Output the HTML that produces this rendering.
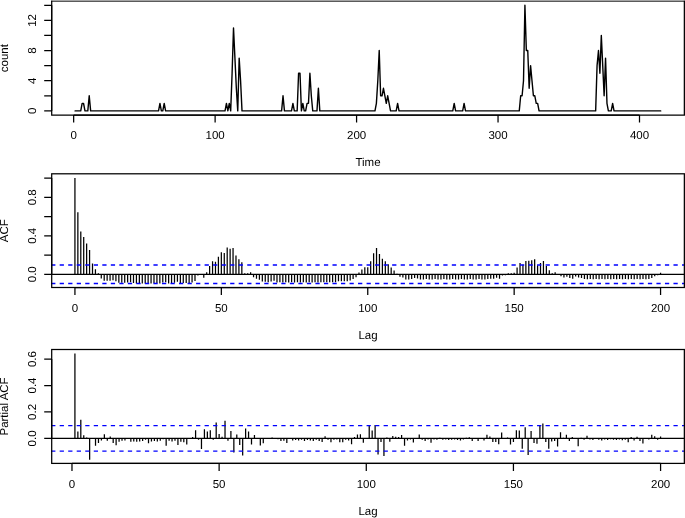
<!DOCTYPE html>
<html><head><meta charset="utf-8"><title>ACF plot</title>
<style>
html,body{margin:0;padding:0;background:#fff;}
body{width:685px;height:518px;overflow:hidden;}
svg{display:block;will-change:transform;}
text{text-rendering:geometricPrecision;font-family:"Liberation Sans",sans-serif;font-size:11.5px;fill:#000;}
.ln{stroke:#000;stroke-width:1.25;fill:none;stroke-linecap:butt;}
.dl{stroke:#000;stroke-width:1.4;stroke-linejoin:round;stroke-linecap:round;}
.bar{stroke:#000;stroke-width:1.25;fill:none;}
.cl{stroke:#00f;stroke-width:1.3;stroke-dasharray:4.2625 4.2625;fill:none;}
</style></head>
<body>
<svg width="685" height="518" viewBox="0 0 685 518">
<rect width="685" height="518" fill="#fff"/>
<g>
<polyline points="75.07,110.88 76.49,110.88 77.9,110.88 79.32,110.88 80.73,110.88 82.15,103.34 83.56,103.34 84.98,110.88 86.39,110.88 87.81,110.88 89.22,95.8 90.64,110.88 92.05,110.88 93.46,110.88 94.88,110.88 96.29,110.88 97.71,110.88 99.12,110.88 100.54,110.88 101.95,110.88 103.37,110.88 104.78,110.88 106.2,110.88 107.61,110.88 109.03,110.88 110.44,110.88 111.85,110.88 113.27,110.88 114.68,110.88 116.1,110.88 117.51,110.88 118.93,110.88 120.34,110.88 121.76,110.88 123.17,110.88 124.59,110.88 126,110.88 127.42,110.88 128.83,110.88 130.24,110.88 131.66,110.88 133.07,110.88 134.49,110.88 135.9,110.88 137.32,110.88 138.73,110.88 140.15,110.88 141.56,110.88 142.98,110.88 144.39,110.88 145.81,110.88 147.22,110.88 148.63,110.88 150.05,110.88 151.46,110.88 152.88,110.88 154.29,110.88 155.71,110.88 157.12,110.88 158.54,110.88 159.95,103.34 161.37,110.88 162.78,110.88 164.2,103.34 165.61,110.88 167.02,110.88 168.44,110.88 169.85,110.88 171.27,110.88 172.68,110.88 174.1,110.88 175.51,110.88 176.93,110.88 178.34,110.88 179.76,110.88 181.17,110.88 182.58,110.88 184,110.88 185.41,110.88 186.83,110.88 188.24,110.88 189.66,110.88 191.07,110.88 192.49,110.88 193.9,110.88 195.32,110.88 196.73,110.88 198.15,110.88 199.56,110.88 200.97,110.88 202.39,110.88 203.8,110.88 205.22,110.88 206.63,110.88 208.05,110.88 209.46,110.88 210.88,110.88 212.29,110.88 213.71,110.88 215.12,110.88 216.54,110.88 217.95,110.88 219.36,110.88 220.78,110.88 222.19,110.88 223.61,110.88 225.02,110.88 226.44,103.34 227.85,110.88 229.27,103.34 230.68,110.88 232.1,73.18 233.51,27.94 234.93,58.1 236.34,88.26 237.75,110.88 239.17,58.1 240.58,80.72 242,110.88 243.41,110.88 244.83,110.88 246.24,110.88 247.66,110.88 249.07,110.88 250.49,110.88 251.9,110.88 253.32,110.88 254.73,110.88 256.14,110.88 257.56,110.88 258.97,110.88 260.39,110.88 261.8,110.88 263.22,110.88 264.63,110.88 266.05,110.88 267.46,110.88 268.88,110.88 270.29,110.88 271.71,110.88 273.12,110.88 274.53,110.88 275.95,110.88 277.36,110.88 278.78,110.88 280.19,110.88 281.61,110.88 283.02,95.8 284.44,110.88 285.85,110.88 287.27,110.88 288.68,110.88 290.1,110.88 291.51,110.88 292.92,103.34 294.34,110.88 295.75,110.88 297.17,110.88 298.58,73.18 300,73.18 301.41,110.88 302.83,103.34 304.24,110.88 305.66,110.88 307.07,103.34 308.49,103.34 309.9,73.18 311.31,95.8 312.73,110.88 314.14,110.88 315.56,110.88 316.97,110.88 318.39,88.26 319.8,110.88 321.22,110.88 322.63,110.88 324.05,110.88 325.46,110.88 326.88,110.88 328.29,110.88 329.7,110.88 331.12,110.88 332.53,110.88 333.95,110.88 335.36,110.88 336.78,110.88 338.19,110.88 339.61,110.88 341.02,110.88 342.44,110.88 343.85,110.88 345.27,110.88 346.68,110.88 348.09,110.88 349.51,110.88 350.92,110.88 352.34,110.88 353.75,110.88 355.17,110.88 356.58,110.88 358,110.88 359.41,110.88 360.83,110.88 362.24,110.88 363.66,110.88 365.07,110.88 366.48,110.88 367.9,110.88 369.31,110.88 370.73,110.88 372.14,110.88 373.56,110.88 374.97,110.88 376.39,103.34 377.8,80.72 379.22,50.56 380.63,95.8 382.04,95.8 383.46,88.26 384.87,95.8 386.29,103.34 387.7,95.8 389.12,103.34 390.53,110.88 391.95,110.88 393.36,110.88 394.78,110.88 396.19,110.88 397.61,103.34 399.02,110.88 400.43,110.88 401.85,110.88 403.26,110.88 404.68,110.88 406.09,110.88 407.51,110.88 408.92,110.88 410.34,110.88 411.75,110.88 413.17,110.88 414.58,110.88 416,110.88 417.41,110.88 418.82,110.88 420.24,110.88 421.65,110.88 423.07,110.88 424.48,110.88 425.9,110.88 427.31,110.88 428.73,110.88 430.14,110.88 431.56,110.88 432.97,110.88 434.39,110.88 435.8,110.88 437.21,110.88 438.63,110.88 440.04,110.88 441.46,110.88 442.87,110.88 444.29,110.88 445.7,110.88 447.12,110.88 448.53,110.88 449.95,110.88 451.36,110.88 452.78,110.88 454.19,103.34 455.6,110.88 457.02,110.88 458.43,110.88 459.85,110.88 461.26,110.88 462.68,110.88 464.09,103.34 465.51,110.88 466.92,110.88 468.34,110.88 469.75,110.88 471.17,110.88 472.58,110.88 473.99,110.88 475.41,110.88 476.82,110.88 478.24,110.88 479.65,110.88 481.07,110.88 482.48,110.88 483.9,110.88 485.31,110.88 486.73,110.88 488.14,110.88 489.56,110.88 490.97,110.88 492.38,110.88 493.8,110.88 495.21,110.88 496.63,110.88 498.04,110.88 499.46,110.88 500.87,110.88 502.29,110.88 503.7,110.88 505.12,110.88 506.53,110.88 507.95,110.88 509.36,110.88 510.77,110.88 512.19,110.88 513.6,110.88 515.02,110.88 516.43,110.88 517.85,110.88 519.26,110.88 520.68,95.8 522.09,95.8 523.51,80.72 524.92,5.32 526.34,50.56 527.75,50.56 529.16,88.26 530.58,65.64 531.99,80.72 533.41,95.8 534.82,95.8 536.24,103.34 537.65,103.34 539.07,110.88 540.48,110.88 541.9,110.88 543.31,110.88 544.73,110.88 546.14,110.88 547.55,110.88 548.97,110.88 550.38,110.88 551.8,110.88 553.21,110.88 554.63,110.88 556.04,110.88 557.46,110.88 558.87,110.88 560.29,110.88 561.7,110.88 563.12,110.88 564.53,110.88 565.94,110.88 567.36,110.88 568.77,110.88 570.19,110.88 571.6,110.88 573.02,110.88 574.43,110.88 575.85,110.88 577.26,110.88 578.68,110.88 580.09,110.88 581.5,110.88 582.92,110.88 584.33,110.88 585.75,110.88 587.16,110.88 588.58,110.88 589.99,110.88 591.41,110.88 592.82,110.88 594.24,110.88 595.65,110.88 597.07,65.64 598.48,50.56 599.89,73.18 601.31,35.48 602.72,65.64 604.14,95.8 605.55,58.1 606.97,103.34 608.38,110.88 609.8,110.88 611.21,110.88 612.63,103.34 614.04,110.88 615.46,110.88 616.87,110.88 618.28,110.88 619.7,110.88 621.11,110.88 622.53,110.88 623.94,110.88 625.36,110.88 626.77,110.88 628.19,110.88 629.6,110.88 631.02,110.88 632.43,110.88 633.85,110.88 635.26,110.88 636.67,110.88 638.09,110.88 639.5,110.88 640.92,110.88 642.33,110.88 643.75,110.88 645.16,110.88 646.58,110.88 647.99,110.88 649.41,110.88 650.82,110.88 652.24,110.88 653.65,110.88 655.06,110.88 656.48,110.88 657.89,110.88 659.31,110.88 660.72,110.88" class="dl" fill="none"/>
<path d="M51.7 0.65V115.1H684.35V0.65" class="ln" stroke-linejoin="miter"/>
<path d="M51.08 1.15H684.98" class="ln" style="stroke-width:1"/>
<path d="M73.66 115.1H639.5M73.66 115.1v7.5M215.12 115.1v7.5M356.58 115.1v7.5M498.04 115.1v7.5M639.5 115.1v7.5" class="ln"/>
<text x="73.66" y="139.3" text-anchor="middle">0</text>
<text x="215.12" y="139.3" text-anchor="middle">100</text>
<text x="356.58" y="139.3" text-anchor="middle">200</text>
<text x="498.04" y="139.3" text-anchor="middle">300</text>
<text x="639.5" y="139.3" text-anchor="middle">400</text>
<path d="M51.7 110.88V5.32M51.7 110.88h-7.5M51.7 95.8h-7.5M51.7 80.72h-7.5M51.7 65.64h-7.5M51.7 50.56h-7.5M51.7 35.48h-7.5M51.7 20.4h-7.5M51.7 5.32h-7.5" class="ln"/>
<text transform="translate(36 110.88) rotate(-90)" text-anchor="middle">0</text>
<text transform="translate(36 80.72) rotate(-90)" text-anchor="middle">4</text>
<text transform="translate(36 50.56) rotate(-90)" text-anchor="middle">8</text>
<text transform="translate(36 20.4) rotate(-90)" text-anchor="middle">12</text>
<text transform="translate(8.2 58.12) rotate(-90)" text-anchor="middle">count</text>
<text x="368.03" y="166.1" text-anchor="middle">Time</text>
<path d="M74.93 274.25V178.1M77.86 274.25V212.14M80.79 274.25V231.46M83.71 274.25V237.04M86.64 274.25V243.39M89.57 274.25V250.12M92.5 274.25V263.48M95.43 274.25V269.35M98.36 274.25V273.29M101.28 274.25V278.58M104.21 274.25V280.79M107.14 274.25V280.79M110.07 274.25V280.79M113 274.25V280.21M115.92 274.25V281.27M118.85 274.25V282.81M121.78 274.25V282.81M124.71 274.25V282.81M127.64 274.25V282.52M130.57 274.25V282.33M133.49 274.25V282.9M136.42 274.25V283.48M139.35 274.25V283.29M142.28 274.25V283.48M145.21 274.25V283.48M148.13 274.25V283.29M151.06 274.25V283.48M153.99 274.25V283.29M156.92 274.25V283.29M159.85 274.25V283.48M162.78 274.25V282.42M165.7 274.25V282.13M168.63 274.25V283.48M171.56 274.25V282.9M174.49 274.25V282.71M177.42 274.25V281.85M180.35 274.25V282.9M183.27 274.25V282.9M186.2 274.25V282.9M189.13 274.25V282.9M192.06 274.25V282.62M194.99 274.25V280.98M197.91 274.25V275.6M200.84 274.25V274.73M203.77 274.25V277.81M206.7 274.25V272.23M209.63 274.25V265.88M212.56 274.25V261.27M215.48 274.25V261.65M218.41 274.25V256.75M221.34 274.25V252.33M224.27 274.25V253M227.2 274.25V247.42M230.12 274.25V248.77M233.05 274.25V248.1M235.98 274.25V255.5M238.91 274.25V259.35M241.84 274.25V262.14M244.77 274.25V273.29M247.69 274.25V273.29M250.62 274.25V272.33M253.55 274.25V277.23M256.48 274.25V278.77M259.41 274.25V279.83M262.33 274.25V281.56M265.26 274.25V281.85M268.19 274.25V282.13M271.12 274.25V281.56M274.05 274.25V280.69M276.98 274.25V282.42M279.9 274.25V282.13M282.83 274.25V282.42M285.76 274.25V282.13M288.69 274.25V282.42M291.62 274.25V282.13M294.54 274.25V282.42M297.47 274.25V282.13M300.4 274.25V282.42M303.33 274.25V282.13M306.26 274.25V282.42M309.19 274.25V282.13M312.11 274.25V282.42M315.04 274.25V282.13M317.97 274.25V282.42M320.9 274.25V282.13M323.83 274.25V282.23M326.76 274.25V282.23M329.68 274.25V282.23M332.61 274.25V282.23M335.54 274.25V282.23M338.47 274.25V281.37M341.4 274.25V281.37M344.32 274.25V281.37M347.25 274.25V281.37M350.18 274.25V280.5M353.11 274.25V279.06M356.04 274.25V277.13M358.97 274.25V272.52M361.89 274.25V269.54M364.82 274.25V267.13M367.75 274.25V267.13M370.68 274.25V261.27M373.61 274.25V253.29M376.53 274.25V248M379.46 274.25V254.06M382.39 274.25V258.67M385.32 274.25V261.27M388.25 274.25V264.25M391.18 274.25V267.52M394.1 274.25V270.5M397.03 274.25V273.77M399.96 274.25V276.75M402.89 274.25V277.62M405.82 274.25V279.54M408.74 274.25V279.54M411.67 274.25V279.06M414.6 274.25V278.1M417.53 274.25V278.58M420.46 274.25V279.54M423.39 274.25V279.54M426.31 274.25V279.06M429.24 274.25V279.54M432.17 274.25V279.54M435.1 274.25V279.06M438.03 274.25V279.54M440.95 274.25V279.54M443.88 274.25V279.06M446.81 274.25V279.54M449.74 274.25V279.54M452.67 274.25V279.06M455.6 274.25V279.54M458.52 274.25V279.54M461.45 274.25V279.06M464.38 274.25V279.54M467.31 274.25V279.54M470.24 274.25V279.06M473.17 274.25V279.54M476.09 274.25V279.54M479.02 274.25V279.06M481.95 274.25V279.54M484.88 274.25V279.54M487.81 274.25V279.06M490.73 274.25V278.67M493.66 274.25V278.67M496.59 274.25V277.81M499.52 274.25V278.67M502.45 274.25V275.6M505.38 274.25V275.21M508.3 274.25V273.29M511.23 274.25V273.29M514.16 274.25V272.71M517.09 274.25V267.42M520.02 274.25V263.1M522.94 274.25V264.83M525.87 274.25V260.89M528.8 274.25V260.69M531.73 274.25V260.21M534.66 274.25V259.25M537.59 274.25V265.31M540.51 274.25V263.1M543.44 274.25V260.89M546.37 274.25V265.88M549.3 274.25V270.31M552.23 274.25V273.29M555.15 274.25V272.33M558.08 274.25V274.54M561.01 274.25V276.17M563.94 274.25V277.42M566.87 274.25V276.85M569.8 274.25V278.1M572.72 274.25V278.87M575.65 274.25V276.56M578.58 274.25V277.62M581.51 274.25V277.9M584.44 274.25V279.06M587.37 274.25V279.25M590.29 274.25V279.06M593.22 274.25V279.25M596.15 274.25V279.06M599.08 274.25V279.25M602.01 274.25V279.06M604.93 274.25V279.25M607.86 274.25V279.06M610.79 274.25V279.25M613.72 274.25V279.06M616.65 274.25V279.25M619.58 274.25V279.06M622.5 274.25V279.25M625.43 274.25V279.06M628.36 274.25V279.25M631.29 274.25V279.06M634.22 274.25V279.25M637.14 274.25V279.06M640.07 274.25V279.25M643 274.25V279.06M645.93 274.25V279.25M648.86 274.25V279.06M651.79 274.25V278.1M654.71 274.25V276.17M657.64 274.25V275.21M660.57 274.25V272.81" class="bar"/>
<path d="M51.7 274.25H684.35" class="ln"/>
<path d="M51.14 265H684.35" class="cl"/>
<path d="M51.14 283.5H684.35" class="cl"/>
<rect x="51.7" y="173.8" width="632.65" height="113.7" class="ln" fill="none"/>
<path d="M74.93 287.5H660.57M74.93 287.5v7.5M221.34 287.5v7.5M367.75 287.5v7.5M514.16 287.5v7.5M660.57 287.5v7.5" class="ln"/>
<text x="74.93" y="312.3" text-anchor="middle">0</text>
<text x="221.34" y="312.3" text-anchor="middle">50</text>
<text x="367.75" y="312.3" text-anchor="middle">100</text>
<text x="514.16" y="312.3" text-anchor="middle">150</text>
<text x="660.57" y="312.3" text-anchor="middle">200</text>
<path d="M51.7 274.25V178.1M51.7 274.25h-7.5M51.7 255.02h-7.5M51.7 235.79h-7.5M51.7 216.56h-7.5M51.7 197.33h-7.5M51.7 178.1h-7.5" class="ln"/>
<text transform="translate(36 274.25) rotate(-90)" text-anchor="middle">0.0</text>
<text transform="translate(36 235.79) rotate(-90)" text-anchor="middle">0.4</text>
<text transform="translate(36 197.33) rotate(-90)" text-anchor="middle">0.8</text>
<text transform="translate(8.2 230.65) rotate(-90)" text-anchor="middle">ACF</text>
<text x="368.03" y="339.1" text-anchor="middle">Lag</text>
<path d="M74.92 438.4V353.4M77.87 438.4V431.53M80.81 438.4V419.63M83.75 438.4V435.23M86.7 438.4V437.47M89.64 438.4V459.82M92.58 438.4V439.06M95.52 438.4V445.8M98.47 438.4V442.89M101.41 438.4V440.38M104.35 438.4V434.17M107.3 438.4V440.65M110.24 438.4V436.55M113.18 438.4V442.89M116.12 438.4V445.27M119.07 438.4V441.7M122.01 438.4V440.65M124.95 438.4V440.52M127.9 438.4V438.93M130.84 438.4V441.7M133.78 438.4V441.44M136.73 438.4V441.7M139.67 438.4V441.44M142.61 438.4V441.04M145.56 438.4V439.72M148.5 438.4V443.29M151.44 438.4V441.44M154.38 438.4V441.04M157.33 438.4V441.44M160.27 438.4V440.78M163.21 438.4V439.33M166.16 438.4V445.8M169.1 438.4V440.78M172.04 438.4V441.44M174.99 438.4V440.78M177.93 438.4V445.01M180.87 438.4V441.84M183.81 438.4V442.23M186.76 438.4V444.48M189.7 438.4V439.06M192.64 438.4V437.08M195.59 438.4V430.2M198.53 438.4V439.72M201.47 438.4V449.11M204.42 438.4V429.28M207.36 438.4V431.39M210.3 438.4V430.2M213.24 438.4V439.72M216.19 438.4V422.54M219.13 438.4V433.91M222.07 438.4V436.81M225.02 438.4V420.69M227.96 438.4V440.65M230.9 438.4V431M233.85 438.4V452.55M236.79 438.4V434.43M239.73 438.4V445.01M242.67 438.4V455.45M245.62 438.4V428.62M248.56 438.4V431.53M251.5 438.4V444.61M254.45 438.4V435.09M257.39 438.4V439.06M260.33 438.4V445.54M263.28 438.4V443.29M266.22 438.4V439.06M269.16 438.4V439.06M272.1 438.4V437.47M275.05 438.4V438.93M277.99 438.4V439.19M280.93 438.4V441.04M283.88 438.4V440.78M286.82 438.4V443.03M289.76 438.4V439.06M292.7 438.4V440.38M295.65 438.4V439.99M298.59 438.4V440.38M301.53 438.4V439.72M304.48 438.4V441.04M307.42 438.4V439.99M310.36 438.4V440.38M313.31 438.4V441.04M316.25 438.4V439.72M319.19 438.4V441.04M322.13 438.4V441.97M325.08 438.4V436.15M328.02 438.4V439.72M330.96 438.4V442.37M333.91 438.4V439.72M336.85 438.4V439.46M339.79 438.4V442.37M342.74 438.4V442.37M345.68 438.4V439.72M348.62 438.4V440.38M351.56 438.4V444.35M354.51 438.4V437.08M357.45 438.4V434.43M360.39 438.4V434.17M363.34 438.4V442.76M366.28 438.4V439.06M369.22 438.4V425.97M372.17 438.4V430.6M375.11 438.4V424.92M378.05 438.4V454.4M381 438.4V442.1M383.94 438.4V455.98M386.88 438.4V437.47M389.82 438.4V441.7M392.77 438.4V436.02M395.71 438.4V436.81M398.65 438.4V437.08M401.6 438.4V435.09M404.54 438.4V445.8M407.48 438.4V440.38M410.43 438.4V439.46M413.37 438.4V442.5M416.31 438.4V439.06M419.25 438.4V434.43M422.2 438.4V439.72M425.14 438.4V441.04M428.08 438.4V439.46M431.03 438.4V442.76M433.97 438.4V439.46M436.91 438.4V439.72M439.86 438.4V437.74M442.8 438.4V439.72M445.74 438.4V439.46M448.68 438.4V439.99M451.63 438.4V439.72M454.57 438.4V439.46M457.51 438.4V439.99M460.46 438.4V440.52M463.4 438.4V439.46M466.34 438.4V437.74M469.29 438.4V437.34M472.23 438.4V440.91M475.17 438.4V439.06M478.11 438.4V440.91M481.06 438.4V439.06M484 438.4V440.38M486.94 438.4V434.83M489.89 438.4V436.55M492.83 438.4V441.97M495.77 438.4V441.97M498.72 438.4V444.22M501.66 438.4V432.45M504.6 438.4V439.06M507.54 438.4V437.47M510.49 438.4V444.61M513.43 438.4V441.97M516.37 438.4V430.2M519.32 438.4V430.47M522.26 438.4V448.84M525.2 438.4V427.16M528.14 438.4V454.92M531.09 438.4V431M534.03 438.4V443.03M536.97 438.4V443.69M539.92 438.4V425.31M542.86 438.4V423.46M545.8 438.4V441.97M548.75 438.4V448.84M551.69 438.4V441.57M554.63 438.4V440.91M557.58 438.4V446.46M560.52 438.4V432.19M563.46 438.4V437.74M566.4 438.4V434.83M569.35 438.4V440.91M572.29 438.4V437.08M575.23 438.4V438M578.18 438.4V446.2M581.12 438.4V437.74M584.06 438.4V439.72M587 438.4V435.76M589.95 438.4V439.46M592.89 438.4V439.99M595.83 438.4V439.06M598.78 438.4V439.72M601.72 438.4V440.38M604.66 438.4V439.46M607.61 438.4V439.99M610.55 438.4V439.19M613.49 438.4V439.72M616.44 438.4V439.99M619.38 438.4V439.46M622.32 438.4V440.25M625.26 438.4V439.72M628.21 438.4V442.37M631.15 438.4V437.08M634.09 438.4V440.38M637.04 438.4V436.81M639.98 438.4V441.04M642.92 438.4V443.42M645.87 438.4V439.06M648.81 438.4V439.46M651.75 438.4V434.83M654.69 438.4V436.15M657.64 438.4V439.72M660.58 438.4V436.42" class="bar"/>
<path d="M51.7 438.4H684.35" class="ln"/>
<path d="M51.14 425.68H684.35" class="cl"/>
<path d="M51.14 451.12H684.35" class="cl"/>
<rect x="51.7" y="349.5" width="632.65" height="113.9" class="ln" fill="none"/>
<path d="M71.98 463.4H660.58M71.98 463.4v7.5M219.13 463.4v7.5M366.28 463.4v7.5M513.43 463.4v7.5M660.58 463.4v7.5" class="ln"/>
<text x="71.98" y="488.1" text-anchor="middle">0</text>
<text x="219.13" y="488.1" text-anchor="middle">50</text>
<text x="366.28" y="488.1" text-anchor="middle">100</text>
<text x="513.43" y="488.1" text-anchor="middle">150</text>
<text x="660.58" y="488.1" text-anchor="middle">200</text>
<path d="M51.7 438.4V359.08M51.7 438.4h-7.5M51.7 411.96h-7.5M51.7 385.52h-7.5M51.7 359.08h-7.5" class="ln"/>
<text transform="translate(36 438.4) rotate(-90)" text-anchor="middle">0.0</text>
<text transform="translate(36 411.96) rotate(-90)" text-anchor="middle">0.2</text>
<text transform="translate(36 385.52) rotate(-90)" text-anchor="middle">0.4</text>
<text transform="translate(36 359.08) rotate(-90)" text-anchor="middle">0.6</text>
<text transform="translate(8.2 406.45) rotate(-90)" text-anchor="middle">Partial ACF</text>
<text x="368.03" y="514.9" text-anchor="middle">Lag</text>
</g>
</svg>
</body></html>
